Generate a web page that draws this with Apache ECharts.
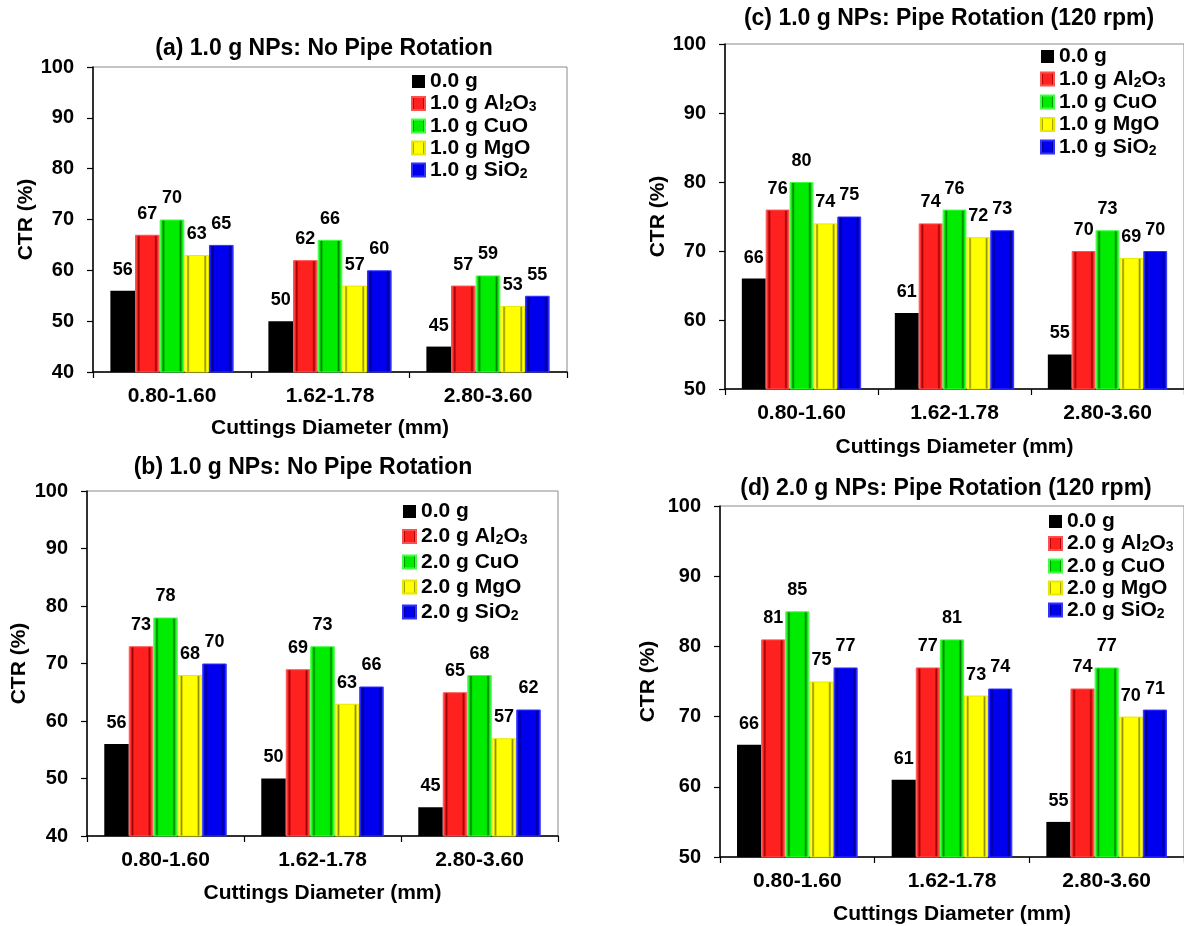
<!DOCTYPE html>
<html><head><meta charset="utf-8">
<script src="https://cdn.jsdelivr.net/npm/echarts@6/dist/echarts.min.js"></script>
<style>html,body{margin:0;padding:0;background:#fff}#c{width:1184px;height:926px}</style>
</head><body><div id="c"></div>
<script>
// ---------- DATA ----------
const categories = ['0.80-1.60', '1.62-1.78', '2.80-3.60'];
const names1g = ['0.0 g', '1.0 g Al2O3', '1.0 g CuO', '1.0 g MgO', '1.0 g SiO2'];
const names2g = ['0.0 g', '2.0 g Al2O3', '2.0 g CuO', '2.0 g MgO', '2.0 g SiO2'];
const titles = [
  '(a) 1.0 g NPs: No Pipe Rotation',
  '(b) 1.0 g NPs: No Pipe Rotation',
  '(c) 1.0 g NPs: Pipe Rotation (120 rpm)',
  '(d) 2.0 g NPs: Pipe Rotation (120 rpm)'
];
const yTicksAB = [40, 50, 60, 70, 80, 90, 100];
const yTicksCD = [50, 60, 70, 80, 90, 100];
// (a)
const a_none = [56, 50, 45];
const a_al2o3 = [67, 62, 57];
const a_cuo = [70, 66, 59];
const a_mgo = [63, 57, 53];
const a_sio2 = [65, 60, 55];
// (b)
const b_none = [56, 50, 45];
const b_al2o3 = [73, 69, 65];
const b_cuo = [78, 73, 68];
const b_mgo = [68, 63, 57];
const b_sio2 = [70, 66, 62];
// (c)
const c_none = [66, 61, 55];
const c_al2o3 = [76, 74, 70];
const c_cuo = [80, 76, 73];
const c_mgo = [74, 72, 69];
const c_sio2 = [75, 73, 70];
// (d)
const d_none = [66, 61, 55];
const d_al2o3 = [81, 77, 74];
const d_cuo = [85, 81, 77];
const d_mgo = [75, 73, 70];
const d_sio2 = [77, 74, 71];

// ---------- STYLE / LAYOUT ----------
const FONT = '"Liberation Sans", Arial, Helvetica, sans-serif';
function bevel(base, light, dark) {
  return new echarts.graphic.LinearGradient(0, 0, 1, 0, [
    {offset: 0, color: light}, {offset: 0.09, color: base},
    {offset: 0.15, color: dark}, {offset: 0.22, color: base},
    {offset: 0.78, color: base}, {offset: 0.85, color: dark},
    {offset: 0.91, color: base}, {offset: 1, color: light}
  ]);
}
const fills = [
  '#000000',
  bevel('#ff2020', '#ff7a7a', '#9a0000'),
  bevel('#00ec00', '#70ff70', '#007a00'),
  bevel('#ffff00', '#ffff90', '#8a8a00'),
  bevel('#0000ee', '#5050ff', '#000080')
];
const borders = ['#000000', '#ff5050', '#40ff40', '#e8e800', '#3030ff'];

const panels = [
  {grid: {left: 93, top: 67, width: 474, height: 305}, min: 40, ticks: yTicksAB, names: names1g,
   data: [a_none, a_al2o3, a_cuo, a_mgo, a_sio2], title: [324, 37], legend: [411, 71, 1], yGap: 52, xGap: 46},
  {grid: {left: 87, top: 491, width: 471, height: 345}, min: 40, ticks: yTicksAB, names: names2g,
   data: [b_none, b_al2o3, b_cuo, b_mgo, b_sio2], title: [303, 456], legend: [402, 501, 4], yGap: 57, xGap: 47},
  {grid: {left: 725, top: 44, width: 465, height: 345}, min: 50, ticks: yTicksCD, names: names1g,
   data: [c_none, c_al2o3, c_cuo, c_mgo, c_sio2], title: [949, 7], legend: [1040, 46, 1.5], yGap: 56, xGap: 48},
  {grid: {left: 720, top: 506, width: 465, height: 352}, min: 50, ticks: yTicksCD, names: names2g,
   data: [d_none, d_al2o3, d_cuo, d_mgo, d_sio2], title: [946, 477], legend: [1048, 511, 1], yGap: 61, xGap: 47}
];

const fmt = name => '{n|' + name.replace(/([A-Za-z])(\d)/g, '$1}{s|$2}{n|') + '}';

const option = {
  backgroundColor: '#fff',
  animation: false,
  title: [], grid: [], xAxis: [], yAxis: [], legend: [], series: []
};

panels.forEach((p, i) => {
  option.title.push({
    text: titles[i], left: p.title[0], top: p.title[1], textAlign: 'center', padding: 0,
    textStyle: {fontFamily: FONT, fontWeight: 'bold', fontSize: 23, color: '#000'}
  });
  option.grid.push(Object.assign({show: true, borderColor: '#8a8a8a', borderWidth: 1,
    backgroundColor: 'transparent', containLabel: false}, p.grid));
  option.xAxis.push({
    type: 'category', gridIndex: i, data: categories,
    name: 'Cuttings Diameter (mm)', nameLocation: 'middle', nameGap: p.xGap,
    nameTextStyle: {fontFamily: FONT, fontWeight: 'bold', fontSize: 21, color: '#000'},
    axisLine: {lineStyle: {color: '#000', width: 1.5}},
    axisTick: {show: true, length: 6, lineStyle: {color: '#000', width: 1.2}},
    axisLabel: {margin: 14, fontFamily: FONT, fontWeight: 'bold', fontSize: 21, color: '#000'},
    splitLine: {show: false}
  });
  option.yAxis.push({
    type: 'value', gridIndex: i, min: p.min, max: 100, interval: 10,
    name: 'CTR (%)', nameLocation: 'middle', nameGap: p.yGap, nameRotate: 90,
    nameTextStyle: {fontFamily: FONT, fontWeight: 'bold', fontSize: 21, color: '#000'},
    axisLine: {show: true, lineStyle: {color: '#000', width: 1.5}},
    axisTick: {show: true, length: 6, lineStyle: {color: '#000', width: 1.2}},
    axisLabel: {margin: 19, fontFamily: FONT, fontWeight: 'bold', fontSize: 20, color: '#000',
      formatter: v => (p.ticks.indexOf(v) >= 0 ? String(v) : '')},
    splitLine: {show: false}
  });
  option.legend.push({
    orient: 'vertical', left: p.legend[0], top: p.legend[1], padding: 0,
    itemGap: p.legend[2], itemWidth: 13, itemHeight: 13, icon: 'rect',
    data: p.names, formatter: fmt, selectedMode: false,
    textStyle: {
      fontFamily: FONT, fontWeight: 'bold', fontSize: 21, color: '#000',
      rich: {
        n: {fontFamily: FONT, fontWeight: 'bold', fontSize: 21, color: '#000', lineHeight: 22},
        s: {fontFamily: FONT, fontWeight: 'bold', fontSize: 14, color: '#000', lineHeight: 13, verticalAlign: 'bottom'}
      }
    }
  });
  p.names.forEach((nm, k) => {
    option.series.push({
      type: 'bar', name: nm, xAxisIndex: i, yAxisIndex: i, data: p.data[k],
      barGap: '0%', barCategoryGap: '22%',
      itemStyle: {color: fills[k], borderColor: borders[k], borderWidth: k === 0 ? 0 : 1},
      label: {show: true, position: 'top', distance: 12, fontFamily: FONT, fontWeight: 'bold',
        fontSize: 18, color: '#000'}
    });
  });
});

const chart = echarts.init(document.getElementById('c'), null, {renderer: 'canvas'});
chart.setOption(option);
</script></body></html>
